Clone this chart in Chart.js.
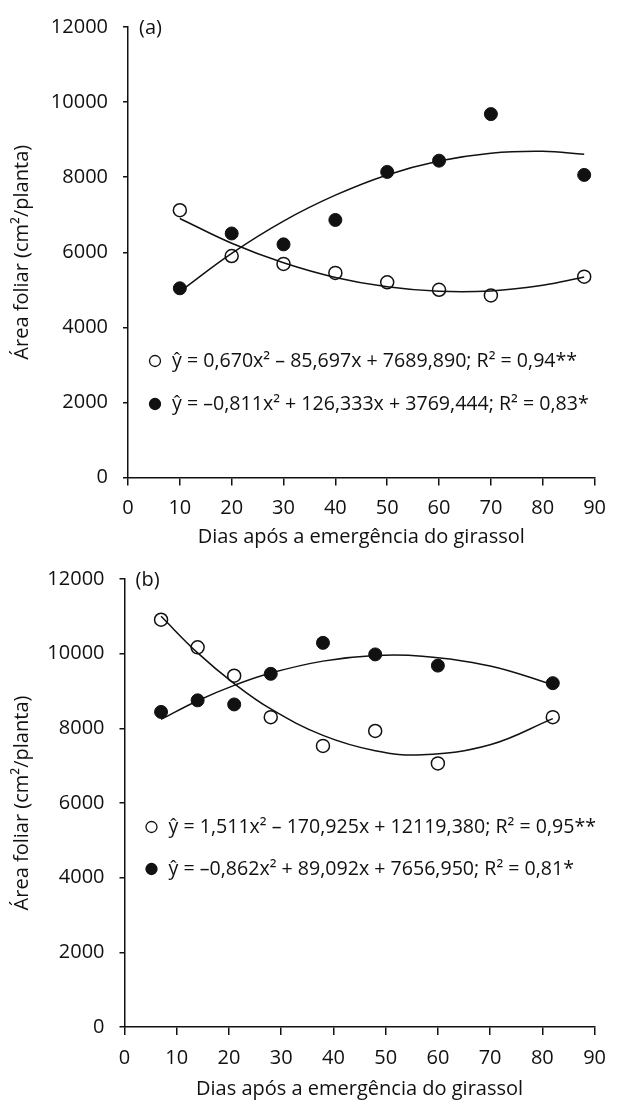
<!DOCTYPE html>
<html>
<head>
<meta charset="utf-8">
<script src="https://cdn.jsdelivr.net/npm/chart.js@4"></script>
<style>
  body { margin: 0; background: #fff; }
  .box { width: 617px; height: 552px; }
</style>
</head>
<body>
<div class="box"><canvas id="chartA" width="617" height="552"></canvas></div>
<div class="box"><canvas id="chartB" width="617" height="552"></canvas></div>
<script>
// (a) observed points
const daysA = [10, 20, 30, 40, 50, 60, 70, 88];
const openA = [7120, 5900, 5690, 5450, 5200, 5000, 4850, 5350];
const filledA = [5040, 6500, 6210, 6860, 8140, 8440, 9680, 8060];
// (a) fitted curves
const fitDaysA = [10, 20, 30, 40, 50, 60, 70, 80, 88];
const fitOpenA = [6900, 6240, 5720, 5330, 5080, 4960, 4970, 5120, 5340];
const fitFilledA = [4950, 5970, 6830, 7520, 8060, 8430, 8640, 8690, 8610];

// (b) observed points
const daysB = [7, 14, 21, 28, 38, 48, 60, 82];
const openB = [10910, 10170, 9410, 8300, 7530, 7930, 7060, 8300];
const filledB = [8440, 8750, 8640, 9460, 10290, 9980, 9680, 9210];
// (b) fitted curves
const fitDaysB = [7, 14, 21, 28, 38, 48, 57, 70, 82];
const fitOpenB = [11000, 10020, 9200, 8520, 7810, 7400, 7290, 7560, 8260];
const fitFilledB = [8240, 8740, 9150, 9480, 9800, 9950, 9930, 9670, 9170];

const eqA = ['ŷ = 0,670x² – 85,697x + 7689,890; R² = 0,94**',
             'ŷ = –0,811x² + 126,333x + 3769,444; R² = 0,83*'];
const eqB = ['ŷ = 1,511x² – 170,925x + 12119,380; R² = 0,95**',
             'ŷ = –0,862x² + 89,092x + 7656,950; R² = 0,81*'];

const xTitle = 'Dias após a emergência do girassol';
const yTitle = 'Área foliar (cm²/planta)';

const FONT = '"Open Sans", sans-serif';
const INK = '#111';

function pts(xs, ys) {
  return xs.map((x, i) => ({x: x, y: ys[i]}));
}

// panel letter and regression equations inside the plot
const notes = {
  id: 'notes',
  afterDatasetsDraw(chart, args, o) {
    const ctx = chart.ctx, a = chart.chartArea;
    ctx.save();
    ctx.fillStyle = INK;
    ctx.font = '20px ' + FONT;
    ctx.textBaseline = 'middle';
    ctx.textAlign = 'left';
    ctx.fillText(o.panel, a.left + 11, a.top + 1);
    ctx.font = '19.6px ' + FONT;
    o.eqs.forEach((t, i) => {
      const y = a.top + o.rowTop + i * o.rowGap;
      ctx.beginPath();
      ctx.arc(a.left + 27, y, 5.5, 0, Math.PI * 2);
      ctx.lineWidth = 1.3;
      ctx.strokeStyle = INK;
      if (i === 1) { ctx.fillStyle = INK; ctx.fill(); }
      ctx.stroke();
      ctx.fillStyle = INK;
      ctx.fillText(t, a.left + 44, y);
    });
    ctx.restore();
  }
};

function makeChart(id, g, d) {
  return new Chart(document.getElementById(id), {
    type: 'scatter',
    data: {
      datasets: [
        {data: pts(d.fitDays, d.fitOpen), showLine: true, pointRadius: 0, borderColor: INK, borderWidth: 1.5, tension: 0.4},
        {data: pts(d.fitDays, d.fitFilled), showLine: true, pointRadius: 0, borderColor: INK, borderWidth: 1.5, tension: 0.4},
        {data: pts(d.days, d.open), pointRadius: 6.5, pointBorderWidth: 1.5, borderColor: INK, backgroundColor: '#fff'},
        {data: pts(d.days, d.filled), pointRadius: 6.5, pointBorderWidth: 1, borderColor: INK, backgroundColor: INK}
      ]
    },
    options: {
      responsive: false,
      animation: false,
      layout: {padding: {left: 0, right: g.right, top: g.top, bottom: 0}},
      plugins: {
        legend: {display: false},
        tooltip: {enabled: false},
        notes: {panel: d.panel, eqs: d.eqs, rowTop: g.rowTop, rowGap: g.rowGap}
      },
      scales: {
        x: {
          type: 'linear', min: 0, max: 90,
          ticks: {stepSize: 10, color: INK, font: {family: FONT, size: 20}, padding: 11,
                  callback: v => String(v)},
          grid: {drawOnChartArea: false, drawTicks: true, tickLength: 8, color: INK, lineWidth: 1.5},
          border: {color: INK, width: 1.5},
          title: {display: true, text: xTitle, color: INK, font: {family: FONT, size: 20}, padding: {top: 0, bottom: 3}},
          afterFit(s) { s.height = g.xh; }
        },
        y: {
          min: 0, max: 12000,
          ticks: {stepSize: 2000, color: INK, font: {family: FONT, size: 20}, padding: 15,
                  callback: v => String(v)},
          grid: {drawOnChartArea: false, drawTicks: true, tickLength: 5, color: INK, lineWidth: 1.5},
          border: {color: INK, width: 1.5},
          title: {display: true, text: yTitle, color: INK, font: {family: FONT, size: 20}, padding: {top: 10, bottom: 0}},
          afterFit(s) { s.width = g.yw; }
        }
      }
    },
    plugins: [notes]
  });
}

makeChart('chartA', {right: 16, top: 21, xh: 74.5, yw: 128, rowTop: 334, rowGap: 43},
  {days: daysA, open: openA, filled: filledA, fitDays: fitDaysA, fitOpen: fitOpenA, fitFilled: fitFilledA, eqs: eqA, panel: '(a)'});
makeChart('chartB', {right: 15, top: 25, xh: 77, yw: 124.5, rowTop: 248, rowGap: 42},
  {days: daysB, open: openB, filled: filledB, fitDays: fitDaysB, fitOpen: fitOpenB, fitFilled: fitFilledB, eqs: eqB, panel: '(b)'});
</script>
</body>
</html>
